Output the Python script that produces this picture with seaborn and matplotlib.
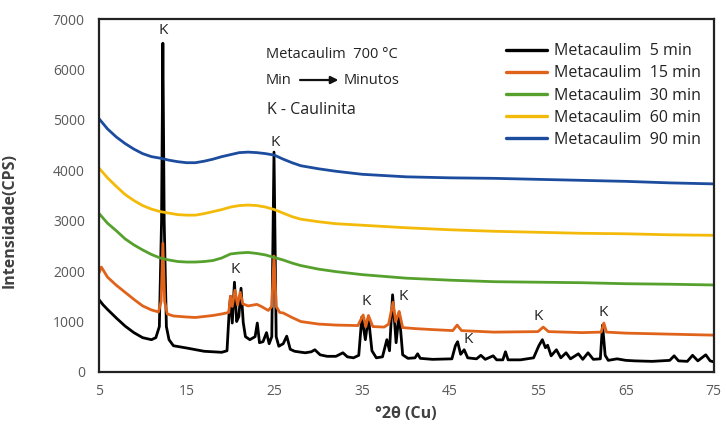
import numpy as np
import pandas as pd
import matplotlib
matplotlib.use("Agg")
import matplotlib.pyplot as plt
import seaborn as sns

# ---------------- data ----------------
series_names = ["Metacaulim  5 min", "Metacaulim  15 min", "Metacaulim  30 min",
                "Metacaulim  60 min", "Metacaulim  90 min"]
colors = ["#000000", "#E0631C", "#56A12D", "#F4BA0A", "#1C4C9E"]

x_5min = [5, 5.5, 6, 7, 8, 9, 10, 11, 11.5, 11.9, 12.15, 12.3, 12.45, 12.7, 13, 13.5, 15, 17, 19,
          19.6, 19.85, 20.0, 20.2, 20.45, 20.7, 20.95, 21.2, 21.45, 21.7, 22.2, 22.8, 23.05, 23.3,
          23.7, 24.1, 24.4, 24.7, 24.95, 25.2, 25.5, 26.0, 26.4, 26.8, 27.3, 28.5, 29.2, 29.6, 30.2,
          31, 32, 32.8, 33.3, 34, 34.6, 34.95, 35.35, 35.7, 36.1, 36.6, 37.3, 37.8, 38.1, 38.45,
          38.85, 39.2, 39.6, 40.2, 41.0, 41.3, 41.6, 43, 45.2, 45.6, 45.85, 46.2, 46.6, 47.0, 48.0,
          48.5, 49, 49.9, 50.3, 51.0, 51.3, 51.6, 53, 54.5, 55.1, 55.5, 55.85, 56.1, 56.5, 57.1,
          57.6, 58.2, 58.7, 59.6, 60.1, 60.7, 61.3, 62.1, 62.35, 62.65, 63, 64, 65, 66, 68, 70,
          70.5, 71, 72, 72.6, 73.2, 74.1, 74.6, 75]
y_5min = [1440, 1330, 1240, 1070, 910, 780, 680, 640, 680, 900, 3000, 6520, 3000, 900, 640, 520, 475,
          410, 390, 420, 1200, 1500, 970, 1780, 1000, 1100, 1660, 980, 700, 640, 700, 970, 580,
          600, 780, 560, 700, 4360, 700, 510, 560, 710, 450, 410, 380, 400, 440, 340,
          310, 310, 380, 300, 280, 330, 1090, 640, 1090, 420, 280, 300, 640, 420, 1530,
          580, 1170, 340, 270, 280, 360, 270, 250, 260, 520, 600, 350, 440, 280, 260,
          330, 250, 320, 240, 240, 400, 240, 240, 280, 520, 640, 480, 530, 320, 440,
          280, 380, 260, 360, 250, 380, 250, 260, 930, 330, 230, 260, 230, 220, 210, 230,
          320, 220, 210, 330, 220, 340, 220, 200]

x_15min = [5.0, 5.3, 6, 7, 8, 9, 10, 11, 11.8, 12.1, 12.3, 12.5, 12.8, 13.5, 15, 16, 17, 18, 19,
           19.8, 20.0, 20.2, 20.5, 20.8, 21.1, 21.4, 22, 23, 23.5, 24.3, 24.7, 24.95, 25.2, 25.6,
           26, 27, 28, 30, 32, 34.5, 35.1, 35.4, 35.7, 36.2, 37.5, 38.0, 38.5, 38.8, 39.2, 39.6,
           41, 43, 45.3, 45.8, 46.3, 50, 55, 55.6, 56.2, 60, 62.2, 62.5, 62.8, 65, 70, 75]
y_15min = [1950, 2080, 1880, 1720, 1580, 1440, 1310, 1230, 1190, 1400, 2550, 1400, 1150, 1110, 1090,
           1080, 1100, 1120, 1150, 1180, 1500, 1300, 1620, 1330, 1580, 1350, 1310, 1340, 1300,
           1220, 1300, 2300, 1300, 1180, 1170, 1080, 1000, 950, 930, 920, 1130, 900, 1120, 900,
           890, 950, 1380, 1000, 1200, 880, 860, 840, 820, 930, 820, 790, 800, 890, 800, 780,
           790, 970, 790, 770, 750, 730]

x_smooth = [5, 6, 7, 8, 9, 10, 11, 12, 13, 14, 15, 16, 17, 18, 19, 20, 21, 22, 23, 24, 25, 26,
            27, 28, 30, 32, 35, 40, 45, 50, 55, 60, 65, 70, 75]
y_30min = [3150, 2950, 2800, 2640, 2520, 2420, 2330, 2260, 2220, 2190, 2180, 2180, 2190, 2210,
           2260, 2340, 2360, 2370, 2350, 2320, 2270, 2220, 2160, 2110, 2040, 1990, 1930, 1860,
           1820, 1790, 1780, 1770, 1750, 1740, 1725]
y_60min = [4050, 3850, 3680, 3520, 3400, 3300, 3230, 3180, 3150, 3120, 3110, 3110, 3140, 3180,
           3220, 3270, 3300, 3310, 3300, 3270, 3220, 3150, 3080, 3030, 2980, 2940, 2910, 2860,
           2820, 2790, 2770, 2750, 2740, 2720, 2710]
y_90min = [5030, 4820, 4660, 4530, 4420, 4330, 4270, 4240, 4200, 4170, 4150, 4150, 4180, 4220,
           4270, 4310, 4350, 4360, 4350, 4330, 4300, 4220, 4150, 4090, 4030, 3980, 3920, 3870,
           3850, 3840, 3820, 3800, 3780, 3750, 3730]

k_x = [12.3, 25.1, 20.5, 35.4, 39.7, 47.0, 55.0, 62.4]
k_y = [6780, 4560, 2040, 1400, 1500, 650, 1100, 1180]

x_ticks = [5, 15, 25, 35, 45, 55, 65, 75]
y_ticks = [0, 1000, 2000, 3000, 4000, 5000, 6000, 7000]

# ---------------- build long table ----------------
frames = []
for name, xs, ys in zip(series_names,
                        [x_5min, x_15min, x_smooth, x_smooth, x_smooth],
                        [y_5min, y_15min, y_30min, y_60min, y_90min]):
    frames.append(pd.DataFrame({"x": xs, "y": ys, "series": name}))
df = pd.concat(frames, ignore_index=True)

# ---------------- plot ----------------
sns.set_style("white")
plt.rcParams["font.family"] = ["Open Sans", "DejaVu Sans"]

fig = plt.figure(figsize=(7.26, 4.32), dpi=100)
ax = fig.add_axes([0.136, 0.139, 0.847, 0.817])

sns.lineplot(data=df, x="x", y="y", hue="series", hue_order=series_names,
             palette=colors, sort=False, estimator=None, linewidth=2.0, legend=False, ax=ax)

ax.set_xlim(5, 75)
ax.set_ylim(0, 7000)
ax.set_xticks(x_ticks)
ax.set_yticks(y_ticks)
ax.tick_params(axis="both", length=0, labelsize=10, labelcolor="#595959")
ax.tick_params(axis="y", pad=10)
ax.tick_params(axis="x", pad=9)
for s in ax.spines.values():
    s.set_color("#222222")
    s.set_linewidth(1.6)

ax.set_xlabel("°2θ (Cu)", fontsize=11.5, fontweight="bold", color="#404040", labelpad=5)
ax.set_ylabel("Intensidade(CPS)", fontsize=11.5, fontweight="bold", color="#404040")
ax.yaxis.set_label_coords(-0.132, 0.43)

for kx, ky in zip(k_x, k_y):
    ax.text(kx, ky, "K", ha="center", va="center", fontsize=11, color="#222222")

ax.text(24.0, 6300, "Metacaulim  700 °C", ha="left", va="center", fontsize=10.5, color="#222222")
ax.text(24.0, 5790, "Min", ha="left", va="center", fontsize=10.5, color="#222222")
ax.annotate("", xy=(32.6, 5790), xytext=(27.6, 5790),
            arrowprops=dict(arrowstyle="-|>", color="#111111", lw=1.6, mutation_scale=11))
ax.text(32.9, 5790, "Minutos", ha="left", va="center", fontsize=10.5, color="#222222")
ax.text(24.1, 5200, "K - Caulinita", ha="left", va="center", fontsize=11.5, color="#222222")

handles = [plt.Line2D([0], [0], color=c, lw=2.4) for c in colors]
leg = ax.legend(handles, series_names, loc="upper right", bbox_to_anchor=(0.985, 0.94),
                frameon=False, fontsize=11.5, handlelength=2.6, handletextpad=0.45,
                labelspacing=0.38, borderaxespad=0.0, borderpad=0.2)
for t in leg.get_texts():
    t.set_color("#222222")

fig.savefig("out.png", dpi=100)
